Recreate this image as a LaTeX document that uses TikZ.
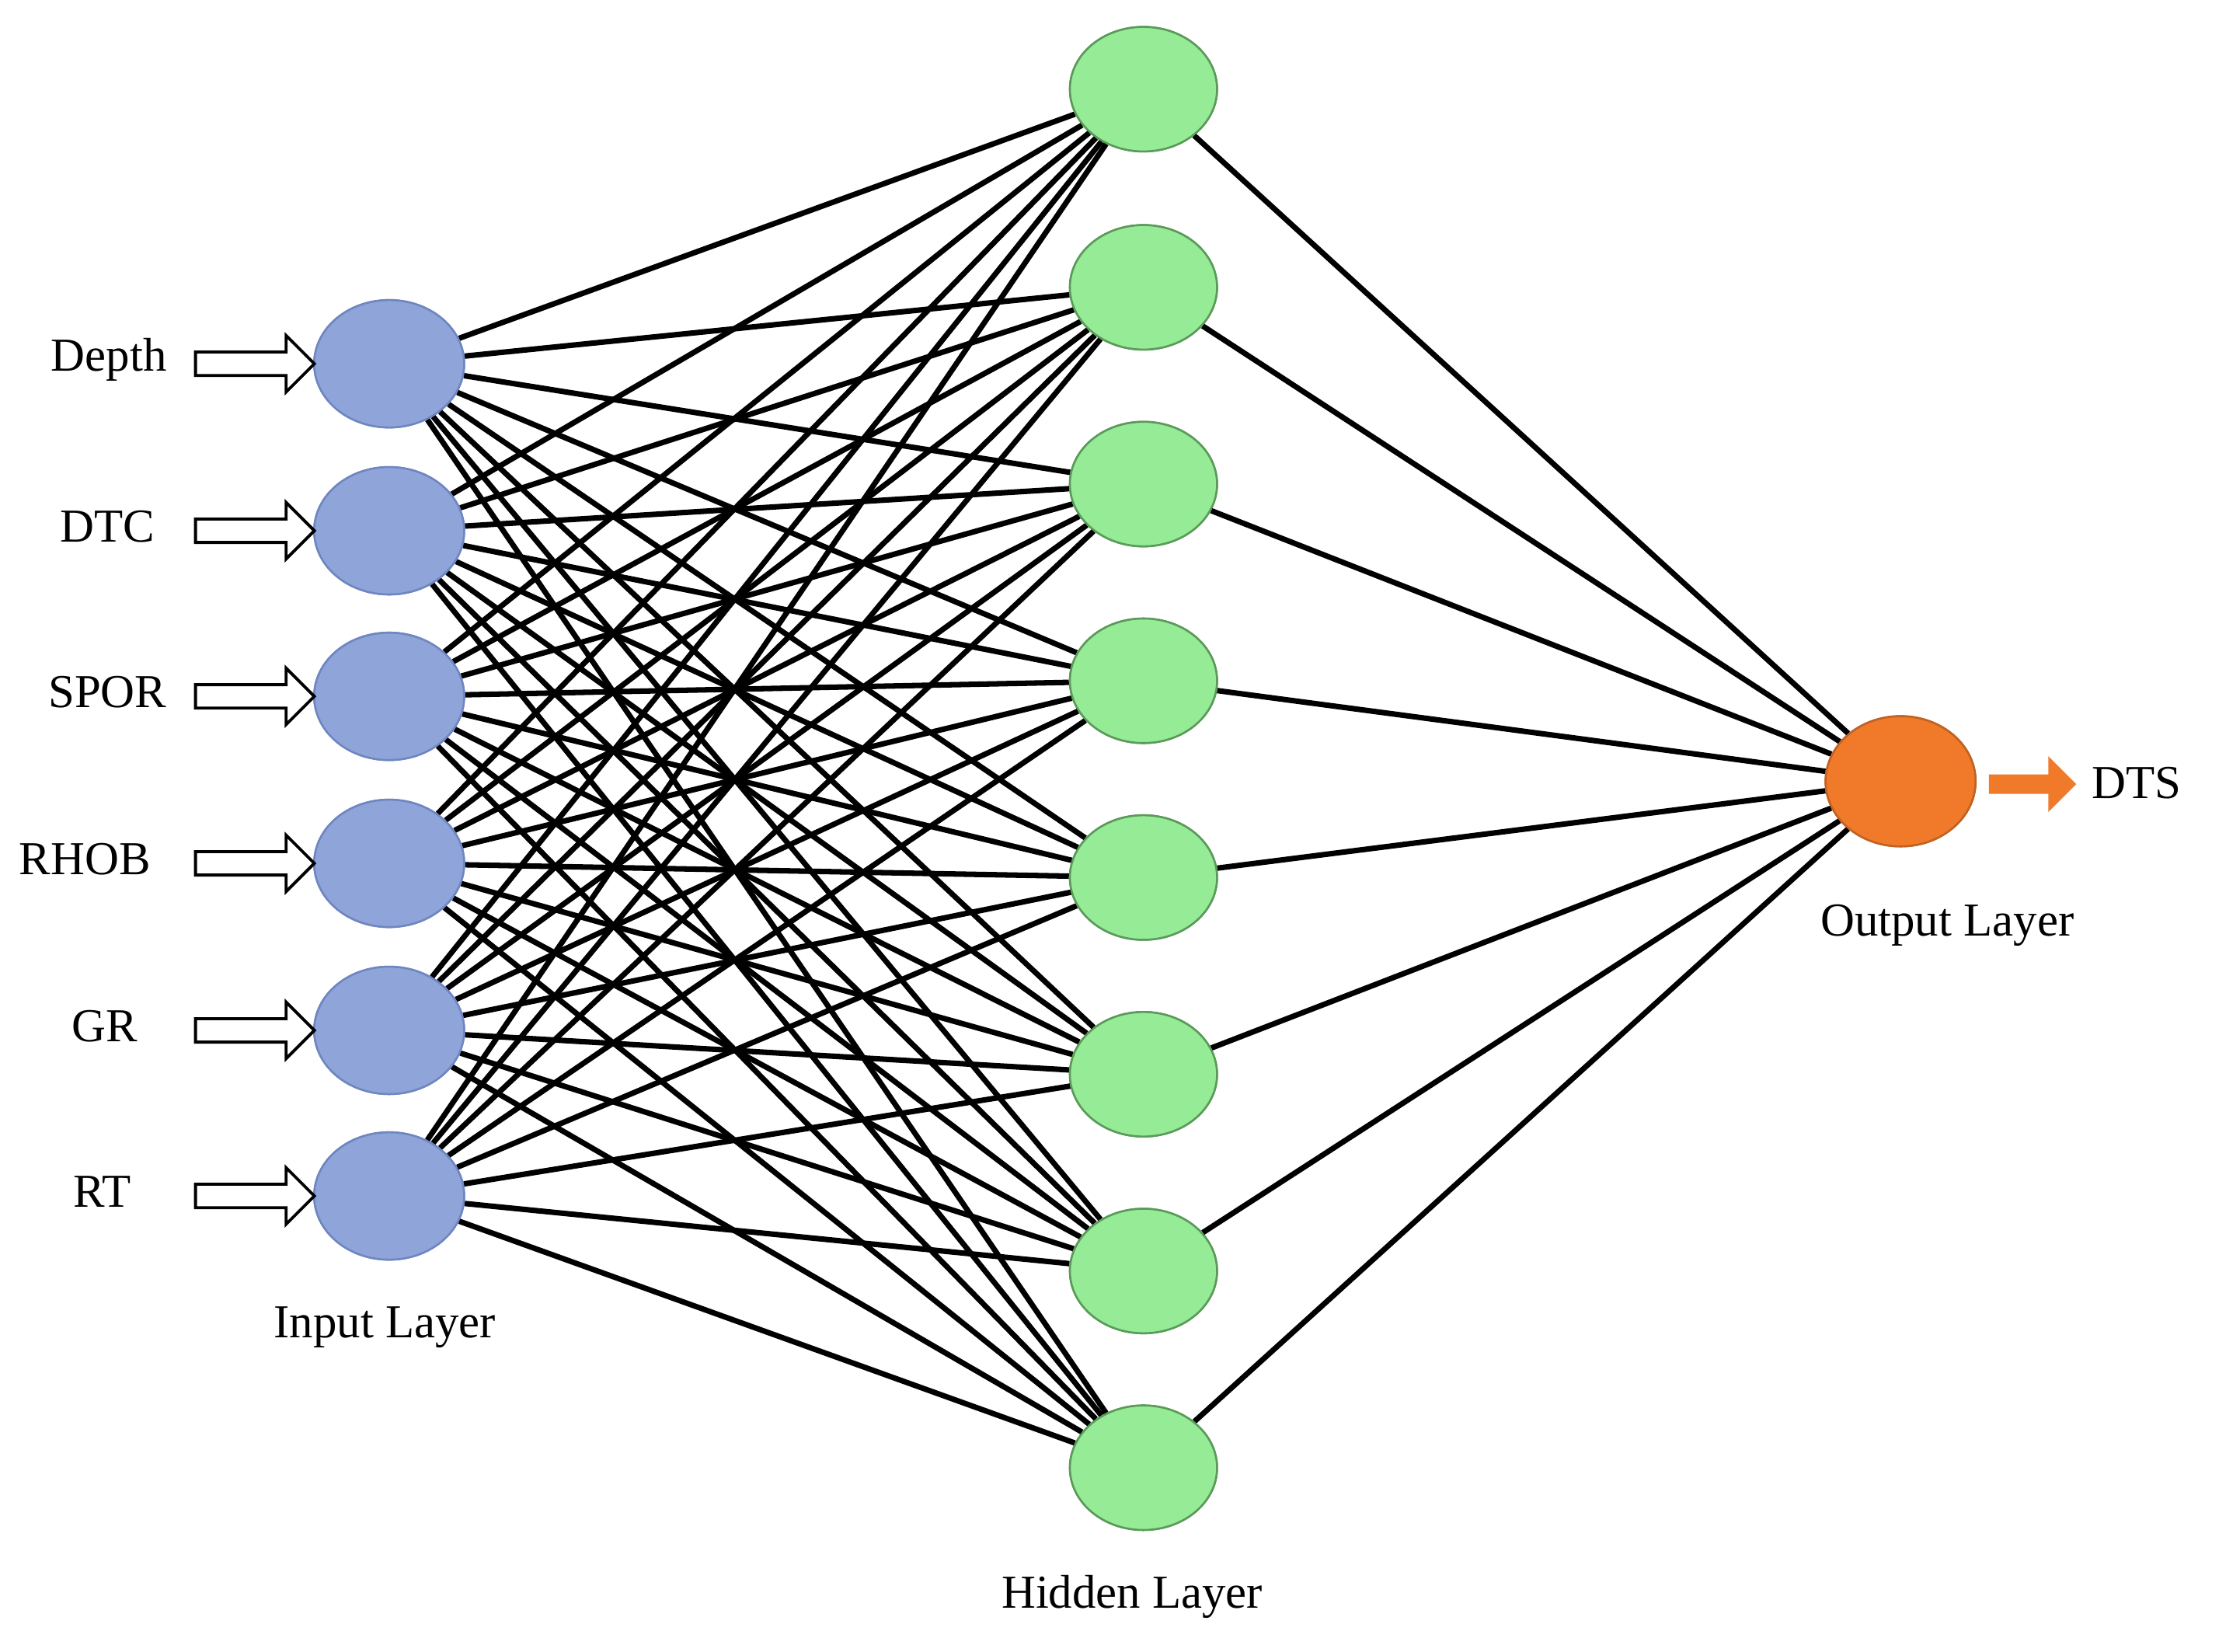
\documentclass[tikz,border=0pt]{standalone}
\usepackage{fontspec}
\setmainfont{Liberation Serif}
\usetikzlibrary{shapes.arrows,shapes.geometric}
\definecolor{inb}{HTML}{8FA5DA}
\definecolor{inbd}{HTML}{6F86C0}
\definecolor{hg}{HTML}{96EC96}
\definecolor{hgd}{HTML}{5A9A5A}
\definecolor{og}{HTML}{F07A2A}
\begin{document}
\begin{tikzpicture}[x=0.1mm,y=-0.1mm,
 inp/.style={ellipse,draw=inbd,fill=inb,minimum width=10.6mm,minimum height=9mm,inner sep=0},
 hid/.style={ellipse,draw=hgd,fill=hg,minimum width=10.4mm,minimum height=8.8mm,inner sep=0},
 outn/.style={ellipse,draw=og!80!black,fill=og,minimum width=10.6mm,minimum height=9.2mm,inner sep=0},
 conn/.style={line width=1.1pt,black},
 inarr/.style={single arrow,draw=black,fill=white,line width=0.6pt,minimum height=8.4mm,minimum width=4mm,single arrow head extend=1mm,inner sep=0.6mm},
 lab/.style={font=\fontsize{9.5}{11}\selectfont}]
\useasboundingbox (0,0) rectangle (1568,1167);
\foreach \i/\y in {1/257,2/375,3/492,4/610,5/728,6/845}{\node[inp] (i\i) at (275,\y) {};}
\foreach \j/\y in {1/63,2/203,3/342,4/481,5/620,6/759,7/898,8/1037}{\node[hid] (h\j) at (808,\y) {};}
\node[outn] (o) at (1343,552) {};
\foreach \i in {1,...,6}{\foreach \j in {1,...,8}{\draw[conn] (i\i) -- (h\j);}}
\foreach \j in {1,...,8}{\draw[conn] (h\j) -- (o);}
\foreach \i in {1,...,6}{\node[inp] at (i\i) {};}
\foreach \j in {1,...,8}{\node[hid] at (h\j) {};}
\node[outn] at (o) {};
\foreach \i/\y/\t/\x in {1/257/Depth/77,2/375/DTC/76,3/492/SPOR/76,4/610/RHOB/60,5/728/GR/74,6/845/RT/72}{
 \node[inarr] (a\i) at (176,\y) {};
 \node[lab] (t\i) at (\x,\y-3) {\t};}
\node[single arrow,fill=og,draw=og,minimum height=6mm,minimum width=3.6mm,single arrow head extend=0.9mm,inner sep=0.4mm] (oa) at (1433,554) {};
\node[lab] (dts) at (1510,553) {DTS};
\node[lab] (il) at (272,938) {Input Layer};
\node[lab] (hl) at (800,1128) {Hidden Layer};
\node[lab] (ol) at (1376,654) {Output Layer};
\end{tikzpicture}
\end{document}
